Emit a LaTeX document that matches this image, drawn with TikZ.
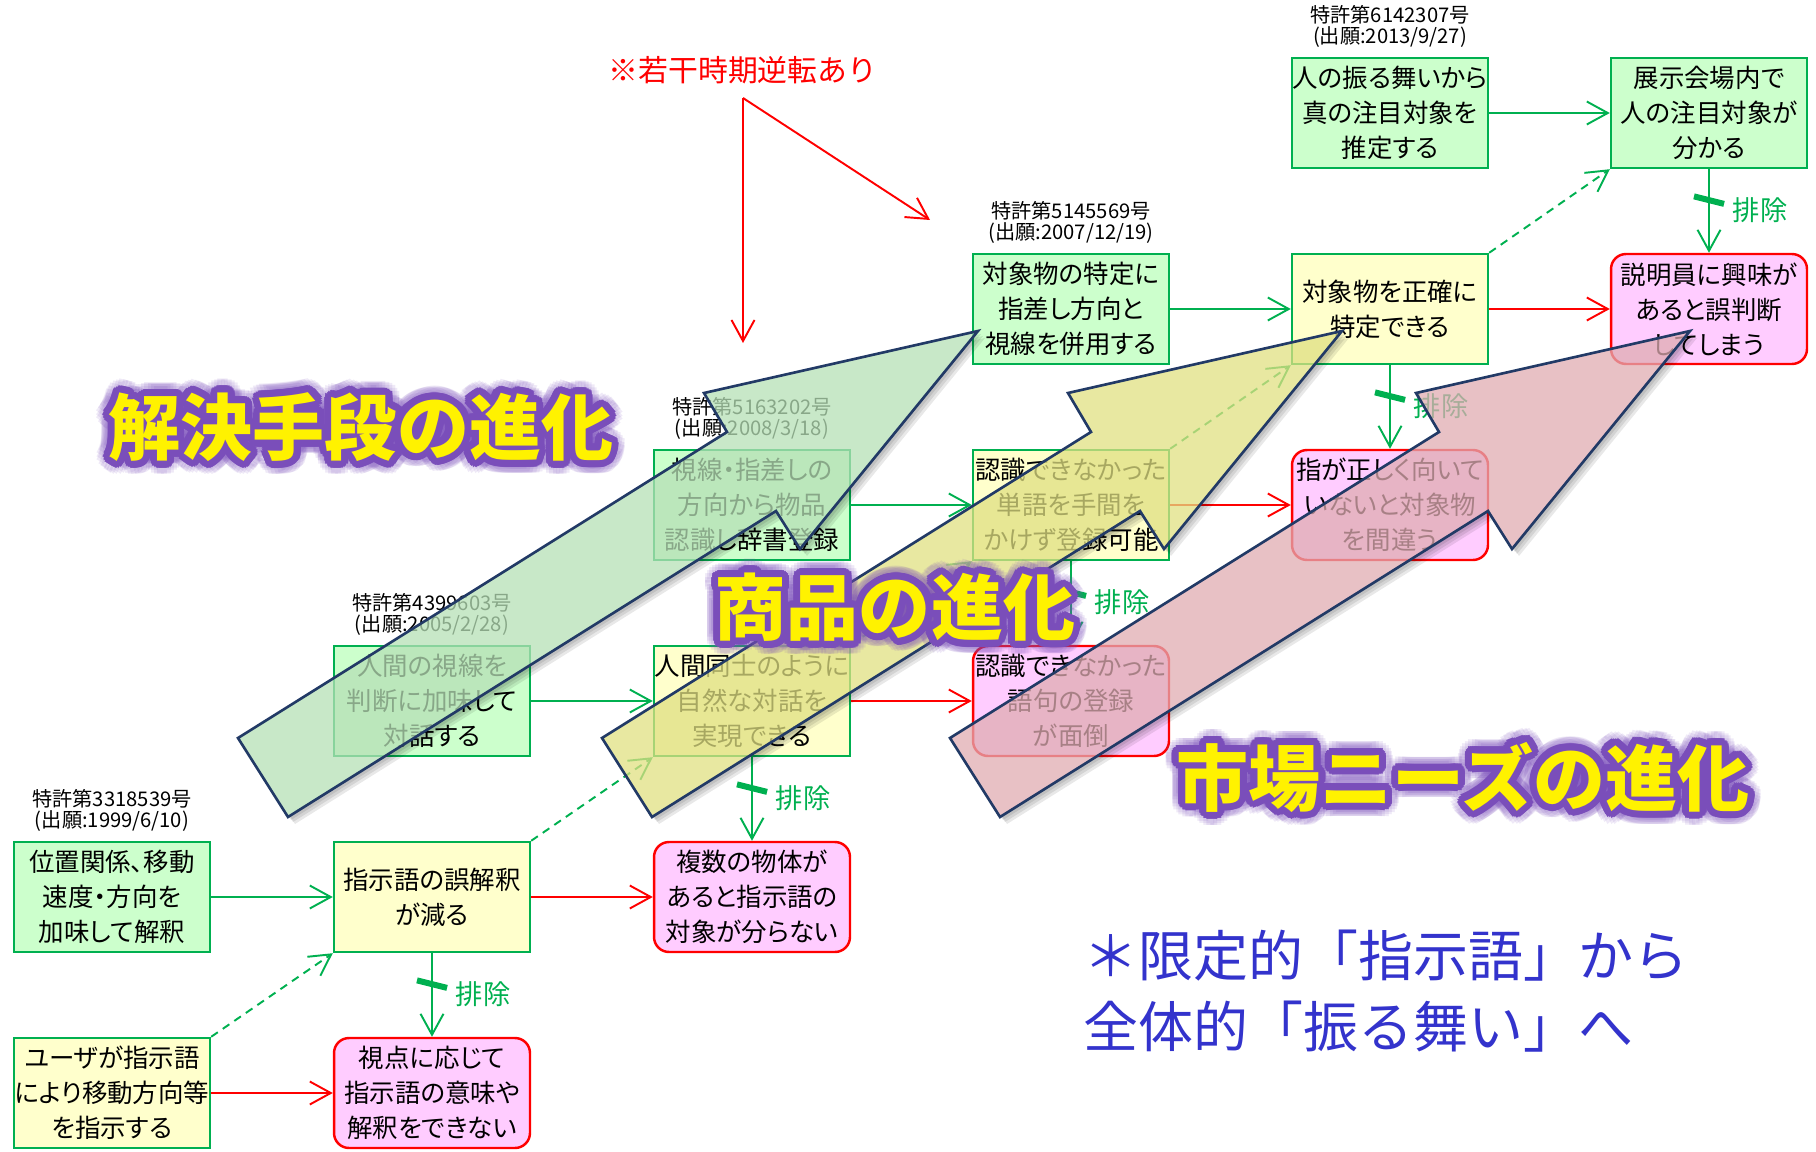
\documentclass[tikz,border=0pt]{standalone}
\usepackage{fontspec}
\setmainfont{Noto Sans CJK JP}
\newfontfamily\boxfont[RawFeature=+palt]{Noto Sans CJK JP}
\usetikzlibrary{arrows.meta, positioning}

\definecolor{lineGreen}{RGB}{0,176,80}
\definecolor{fillGreen}{RGB}{204,255,204}
\definecolor{fillYellow}{RGB}{255,255,204}
\definecolor{fillPink}{RGB}{255,204,255}
\definecolor{lineRed}{RGB}{255,0,0}
\definecolor{arrowEdge}{RGB}{34,58,102}
\definecolor{arrGreen}{RGB}{182,224,182}
\definecolor{arrYellow}{RGB}{224,224,130}
\definecolor{arrPink}{RGB}{224,172,178}
\definecolor{glowPurple}{RGB}{122,78,186}
\definecolor{noteBlue}{RGB}{51,51,204}

\tikzset{
  box/.style={draw=lineGreen, line width=1.4pt, minimum width=3.92cm, minimum height=2.2cm,
    inner sep=0pt, align=center, font=\boxfont\fontsize{14.5}{19.9}\selectfont},
  means/.style={box, fill=fillGreen},
  merit/.style={box, fill=fillYellow},
  trouble/.style={box, fill=fillPink, draw=lineRed, rounded corners=0.3cm},
  patent/.style={align=center, inner sep=0pt, font=\fontsize{11.5}{12.5}\selectfont},
  link/.style={line width=1.1pt, -{Straight Barb[length=0.42cm, width=0.46cm]}},
  good/.style={link, draw=lineGreen},
  bad/.style={link, draw=lineRed},
  hint/.style={good, dash pattern=on 0.16cm off 0.12cm},
  barmark/.style={fill=lineGreen, minimum width=0.62cm, minimum height=0.12cm, inner sep=0pt, rotate=-14},
  exlabel/.style={text=lineGreen, anchor=west, inner sep=0pt, font=\fontsize{15.5}{16}\selectfont},
  warnnote/.style={text=lineRed, inner sep=0pt, font=\fontsize{17}{20}\selectfont},
  summary/.style={text=noteBlue, align=left, inner sep=0pt, font=\fontsize{31.3}{40.4}\selectfont},
  titleglow/.style={text=glowPurple, inner sep=0pt, font=\bfseries\fontsize{41}{45}\selectfont},
  titletext/.style={titleglow, text=yellow}
}

\newcommand{\evoarrow}{(602,738) -- (1091,432) -- (1068,393) -- (1342,331) -- (1164,549) -- (1140,511) -- (652,817) -- cycle}

\newcommand{\glowtitle}[3]{%
  \foreach \a in {0,15,...,345} {
    \node[titleglow, opacity=0.12, shift={(\a:0.27cm)}] at (#2) {#3};
    \node[titleglow, shift={(\a:0.14cm)}] at (#2) {#3};
  }
  \node[titletext] (#1) at (#2) {#3};
}

\begin{document}
\begin{tikzpicture}[x=0.02cm, y=-0.02cm]
    \useasboundingbox (0,0) rectangle (1816,1152);

    % solutions
    \node[means] (s1) at (112,897) {位置関係、移動\\速度・方向を\\加味して解釈};
    \node[means] (s2) at (432,701) {人間の視線を\\判断に加味して\\対話する};
    \node[means] (s3) at (752,505) {視線・指差しの\\方向から物品\\認識し辞書登録};
    \node[means] (s4) at (1071,309) {対象物の特定に\\指差し方向と\\視線を併用する};
    \node[means] (s5) at (1390,113) {人の振る舞いから\\真の注目対象を\\推定する};

    % effects
    \node[merit] (e0) at (112,1093) {ユーザが指示語\\により移動方向等\\を指示する};
    \node[merit] (e1) at (432,897) {指示語の誤解釈\\が減る};
    \node[merit] (e2) at (752,701) {人間同士のように\\自然な対話を\\実現できる};
    \node[merit] (e3) at (1071,505) {認識できなかった\\単語を手間を\\かけず登録可能};
    \node[merit] (e4) at (1390,309) {対象物を正確に\\特定できる};
    \node[means] (e5) at (1709,113) {展示会場内で\\人の注目対象が\\分かる};

    % needs
    \node[trouble] (n0) at (432,1093) {視点に応じて\\指示語の意味や\\解釈をできない};
    \node[trouble] (n1) at (752,897) {複数の物体が\\あると指示語の\\対象が分らない};
    \node[trouble] (n2) at (1071,701) {認識できなかった\\語句の登録\\が面倒};
    \node[trouble] (n3) at (1390,505) {指が正しく向いて\\いないと対象物\\を間違う};
    \node[trouble] (n4) at (1709,309) {説明員に興味が\\あると誤判断\\してしまう};

    \node[patent, above=0.17cm of s1] (pat1) {特許第3318539号\\(出願:1999/6/10)};
    \node[patent, above=0.17cm of s2] (pat2) {特許第4399603号\\(出願:2005/2/28)};
    \node[patent, above=0.17cm of s3] (pat3) {特許第5163202号\\(出願:2008/3/18)};
    \node[patent, above=0.17cm of s4] (pat4) {特許第5145569号\\(出願:2007/12/19)};
    \node[patent, above=0.17cm of s5] (pat5) {特許第6142307号\\(出願:2013/9/27)};

    \foreach \k in {1,...,5}
        \draw[good] (s\k) -- (e\k);
    \foreach \k in {0,...,4}
        \draw[bad] (e\k) -- (n\k);
    \foreach \k [evaluate=\k as \n using int(\k+1)] in {0,...,4} {
        \draw[hint] (e\k.north east) -- (e\n.south west);
        \draw[good] (e\n.south) -- (n\k.north)
            node[pos=0.37, barmark] (bar\k) {}
            node[pos=0.49, exlabel, xshift=0.46cm] (ex\k) {排除};
    }

    \node[warnnote] (remark) at (743,70) {※若干時期逆転あり};
    \coordinate (fork) at (743,98);
    \coordinate (fork-down) at (743,343);
    \coordinate (fork-right) at (930,220);
    \draw[bad] (fork) -- (fork-down);
    \draw[bad] (fork) -- (fork-right);

    % evolution arrows
    \foreach \dx/\col in {-364/arrGreen, 0/arrYellow, 348/arrPink} {
        \begin{scope}[shift={(\dx,0)}]
            \begin{scope}[even odd rule]
                \clip (-500,0) rectangle (2400,1152) \evoarrow;
                \foreach \s in {3,5,7}
                    \fill[black, opacity=0.09, shift={(\s,\s)}] \evoarrow;
            \end{scope}
            \filldraw[fill=\col, fill opacity=0.75, draw=arrowEdge, line width=1.5pt] \evoarrow;
        \end{scope}
    }

    \glowtitle{means-title}{361,427}{解決手段の進化}
    \glowtitle{goods-title}{895,607}{商品の進化}
    \glowtitle{needs-title}{1463,777}{市場ニーズの進化}

    \node[summary, anchor=west] (shift-note) at (1083,991) {＊限定的「指示語」から\\全体的「振る舞い」へ};
\end{tikzpicture}
\end{document}
